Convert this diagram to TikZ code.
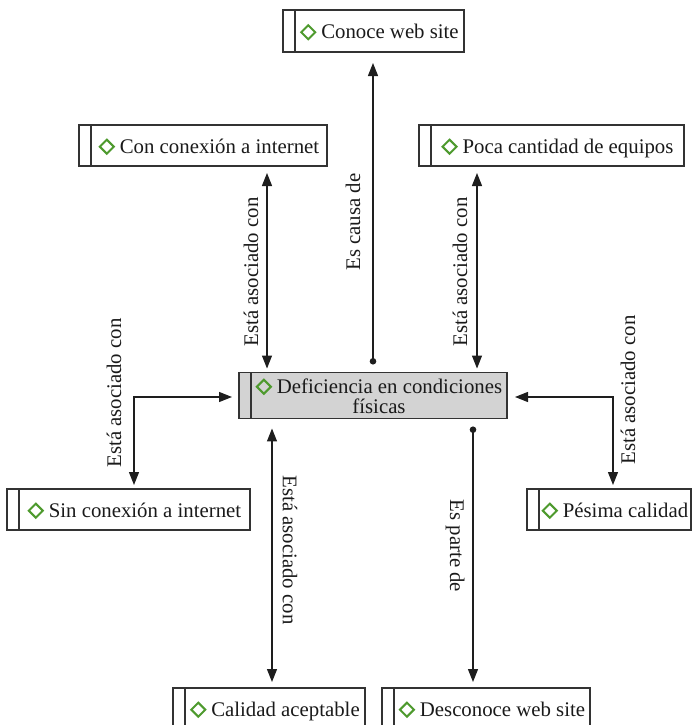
\documentclass[tikz,border=0pt]{standalone}
\usepackage{fontspec}
\setmainfont{Liberation Serif}
\usetikzlibrary{arrows.meta,calc}
\definecolor{boxc}{HTML}{333333}
\definecolor{linec}{HTML}{1E1E1E}
\definecolor{txtc}{HTML}{1A1A1A}
\definecolor{diamc}{HTML}{4E9A2E}
\definecolor{fillc}{HTML}{D3D3D3}
\newcommand\dia{\tikz[baseline=0pt]\draw[diamc,line width=2pt,line join=miter] (0pt,6.8pt)--(7pt,13.8pt)--(14pt,6.8pt)--(7pt,-0.2pt)--cycle;\hspace{5pt}}
\newcommand\boxtxt[2]{\makebox[12pt]{}\makebox[\dimexpr#1pt-12pt\relax][c]{\rule[-6pt]{0pt}{28pt}\dia #2}}
\begin{document}
\begin{tikzpicture}[x=1pt,y=-1pt,
  font=\fontsize{20.8}{24}\selectfont, text=txtc,
  box/.style={draw=boxc, line width=1.3pt, inner sep=0pt, outer sep=0pt, minimum height=41pt,
    path picture={\draw[boxc,line width=1.3pt] ([xshift=12pt]path picture bounding box.north west) -- ([xshift=12pt]path picture bounding box.south west);}},
  dbl/.style={linec, line width=1.2pt, {Triangle[length=13pt,width=10pt]}-{Triangle[length=13pt,width=10pt]}},
  dotarr/.style={linec, line width=1.2pt, {Circle[length=6.5pt,width=6.5pt]}-{Triangle[length=13pt,width=10pt]}},
  lab/.style={inner sep=0pt}]
\useasboundingbox (0,0) rectangle (695,725);

% boxes
\node[box, minimum height=42pt] (conoce) at (373.5,31) {\boxtxt{181}{Conoce web site}};
\node[box] (con) at (203,145.5) {\boxtxt{248}{Con conexión a internet}};
\node[box] (poca) at (551.5,145.5) {\boxtxt{265}{Poca cantidad de equipos}};
\node[box, fill=fillc, minimum height=43pt] (ctr) at (373,395.5) {\makebox[12pt]{}\makebox[256pt][c]{\fontsize{20.8}{19}\selectfont\renewcommand\arraystretch{0.9}\begin{tabular}{@{}c@{}}\rule{0pt}{21pt}\dia Deficiencia en condiciones\\ físicas\end{tabular}}};
\node[box] (sin) at (128.5,509.5) {\boxtxt{243}{Sin conexión a internet}};
\node[box] (pes) at (609,509.5) {\boxtxt{164}{Pésima calidad}};
\node[box] (cal) at (269,708.5) {\boxtxt{192}{Calidad aceptable}};
\node[box] (desc) at (486,708.5) {\boxtxt{208}{Desconoce web site}};

% guide coordinates
\coordinate (xa) at (267,0);
\coordinate (xc) at (373,0);
\coordinate (xp) at (477,0);
\coordinate (xq) at (272,0);
\coordinate (xd) at (473,0);
\coordinate (xl) at (134,0);
\coordinate (xr) at (613,0);
\coordinate (yl) at (0,397);

% connectors
\draw[dbl, shorten <=7pt, shorten >=4pt] (con.south -| xa) -- (ctr.north -| xa);
\draw[dotarr, shorten <=8pt, shorten >=11pt] (ctr.north -| xc) -- (conoce.south -| xc);
\draw[dbl, shorten <=7pt, shorten >=4pt] (poca.south -| xp) -- (ctr.north -| xp);
\draw[dbl, shorten <=7pt, shorten >=4pt] (ctr.west |- yl) -| (sin.north -| xl);
\draw[dbl, shorten <=8pt, shorten >=4pt] (ctr.east |- yl) -| (pes.north -| xr);
\draw[dbl, shorten <=10pt, shorten >=6pt] (ctr.south -| xq) -- (cal.north -| xq);
\draw[dotarr, shorten <=8pt, shorten >=6pt] (ctr.south -| xd) -- (desc.north -| xd);

% labels
\node[lab, rotate=90] (l1) at (251,272) {Está asociado con};
\node[lab, rotate=90] (l2) at (353,222) {Es causa de};
\node[lab, rotate=90] (l3) at (460,272) {Está asociado con};
\node[lab, rotate=90] (l4) at (114,393) {Está asociado con};
\node[lab, rotate=90] (l5) at (628,390) {Está asociado con};
\node[lab, rotate=-90] (l6) at (290,550) {Está asociado con};
\node[lab, rotate=-90] (l7) at (455,546) {Es parte de};
\end{tikzpicture}
\end{document}
